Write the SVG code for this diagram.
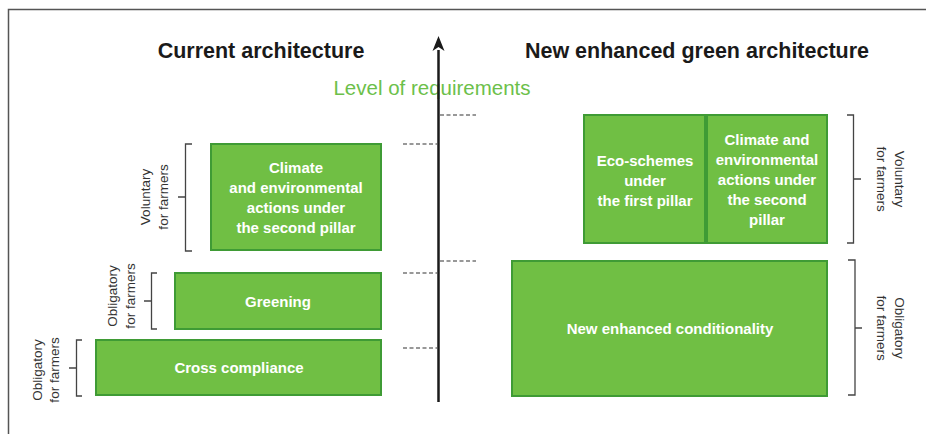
<svg xmlns="http://www.w3.org/2000/svg" width="926" height="434" viewBox="0 0 926 434">
<style>
.box{fill:#70bf44;stroke:#3f9b35;stroke-width:2}
.bt{font-family:"Liberation Sans",Arial,sans-serif;font-weight:bold;font-size:15px;fill:#ffffff;text-anchor:middle}
.title{font-family:"Liberation Sans",Arial,sans-serif;font-weight:bold;font-size:21.5px;fill:#1a1a1a;text-anchor:middle}
.side{font-family:"Liberation Sans",Arial,sans-serif;font-size:13.5px;fill:#333333;text-anchor:middle}
.br{fill:none;stroke:#444444;stroke-width:1.3}
.dash{stroke:#333333;stroke-width:1.2;stroke-dasharray:4 2.5}
</style>
<defs>
<marker id="ah" markerWidth="12" markerHeight="16" refX="6" refY="1" orient="auto" markerUnits="userSpaceOnUse" viewBox="0 0 12 16">
<path d="M0,15 L6,0 L12,15 L6,11 Z" fill="#1a1a1a"/>
</marker>
</defs>
<rect width="926" height="434" fill="#ffffff"/>
<path d="M8.5,434 V9.5 H926" fill="none" stroke="#555555" stroke-width="1.5"/>

<text class="title" x="261" y="58">Current architecture</text>
<text class="title" x="697" y="58">New enhanced green architecture</text>
<text x="432" y="95" font-family="'Liberation Sans',Arial,sans-serif" font-size="20.5" fill="#6cc04a" text-anchor="middle">Level of requirements</text>

<g id="connectors">
<line x1="438.5" y1="402" x2="438.5" y2="50" stroke="#1a1a1a" stroke-width="2.5"/>
<path d="M432.5,51 L438.5,36 L444.5,51 L438.5,47 Z" fill="#1a1a1a"/>
<line class="dash" x1="403" y1="144" x2="437" y2="144"/>
<line class="dash" x1="403" y1="273" x2="437" y2="273"/>
<line class="dash" x1="403" y1="348" x2="437" y2="348"/>
<line class="dash" x1="440" y1="115" x2="476" y2="115"/>
<line class="dash" x1="440" y1="261" x2="476" y2="261"/>
</g>

<g id="climate-current">
<rect class="box" x="211" y="144" width="170" height="106"/>
<text class="bt" x="296" y="173">Climate</text>
<text class="bt" x="296" y="193">and environmental</text>
<text class="bt" x="296" y="213">actions under</text>
<text class="bt" x="296" y="233">the second pillar</text>
</g>
<g id="greening">
<rect class="box" x="175" y="273" width="206" height="56"/>
<text class="bt" x="278" y="307">Greening</text>
</g>
<g id="cross-compliance">
<rect class="box" x="96" y="340" width="285" height="55"/>
<text class="bt" x="239" y="373">Cross compliance</text>
</g>
<g id="eco-schemes">
<rect class="box" x="584" y="115" width="121" height="128"/>
<text class="bt" x="645" y="166">Eco-schemes</text>
<text class="bt" x="645" y="186">under</text>
<text class="bt" x="645" y="206">the first pillar</text>
</g>
<g id="climate-new">
<rect class="box" x="707" y="115" width="120" height="128"/>
<text class="bt" x="767" y="145">Climate and</text>
<text class="bt" x="767" y="165">environmental</text>
<text class="bt" x="767" y="185">actions under</text>
<text class="bt" x="767" y="205">the second</text>
<text class="bt" x="767" y="225">pillar</text>
</g>
<g id="conditionality">
<rect class="box" x="512" y="261" width="315" height="135"/>
<text class="bt" x="670" y="334">New enhanced conditionality</text>
</g>

<g id="bracket-voluntary-current">
<path class="br" d="M192,144 H185.5 V251 H192 M185.5,197 H178"/>
<text class="side" transform="translate(150,197) rotate(-90)">Voluntary</text>
<text class="side" transform="translate(168,197) rotate(-90)">for farmers</text>
</g>
<g id="bracket-obligatory-greening">
<path class="br" d="M157,273 H151.5 V329 H157 M151.5,301 H144"/>
<text class="side" transform="translate(117,296) rotate(-90)">Obligatory</text>
<text class="side" transform="translate(135,296) rotate(-90)">for farmers</text>
</g>
<g id="bracket-obligatory-cross">
<path class="br" d="M82,340 H76.5 V396 H82 M76.5,368 H69"/>
<text class="side" transform="translate(42,370) rotate(-90)">Obligatory</text>
<text class="side" transform="translate(59,370) rotate(-90)">for farmers</text>
</g>
<g id="bracket-voluntary-new">
<path class="br" d="M847,115 H853.5 V243 H847 M853.5,179 H861"/>
<text class="side" transform="translate(895,179) rotate(90)">Voluntary</text>
<text class="side" transform="translate(877,179) rotate(90)">for farmers</text>
</g>
<g id="bracket-obligatory-new">
<path class="br" d="M848,260 H855 V395 H848 M855,328 H862"/>
<text class="side" transform="translate(895,328) rotate(90)">Obligatory</text>
<text class="side" transform="translate(877,328) rotate(90)">for farmers</text>
</g>
</svg>
